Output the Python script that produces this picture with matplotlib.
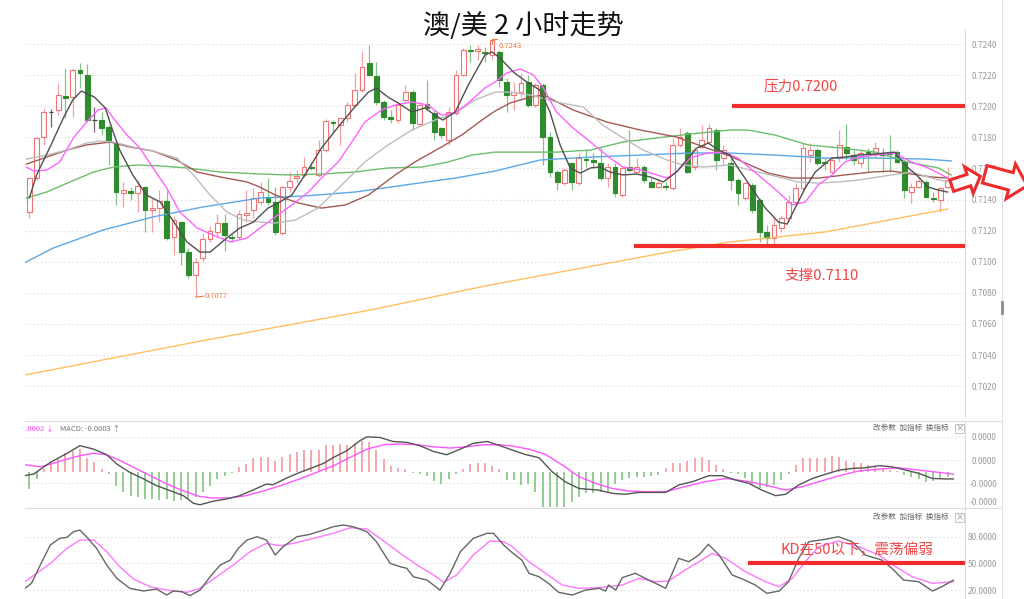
"""
AUD/USD 2 hour chart - candles with moving averages, MACD and KD panels
"""

import matplotlib.pyplot as plt
from matplotlib.patches import Polygon, Rectangle
import numpy as np

plt.rcParams['font.family'] = ['Noto Sans CJK SC', 'DejaVu Sans']

# candle data (one bar per 2 hours)
opens = [.71320, .71538, .71802, .71963, .71976, .72066, .72059, .72233, .72201, .71911,
         .71911, .71866, .71763, .71442, .71455, .71442, .71480, .71333, .71346, .71390,
         .71159, .71255, .71062, .70914, .71024, .71146, .71191, .71249, .71159, .71159,
         .71300, .71333, .71384, .71416, .71384, .71185, .71480, .71538, .71558, .71609,
         .71558, .71718, .71898, .71879, .71924, .72008, .72104, .72278, .72194, .72027,
         .71931, .71911, .72040, .72091, .71886, .72014, .71956, .71860, .71783, .71956,
         .72201, .72361, .72355, .72349, .72329, .72349, .72156, .72072, .72091, .72156,
         .72008, .72136, .71802, .71577, .71506, .71635, .71506, .71660, .71654, .71635,
         .71538, .71609, .71429, .71609, .71577, .71609, .71513, .71480, .71487, .71474,
         .71750, .71828, .71609, .71738, .71770, .71847, .71667, .71635, .71525, .71410,
         .71493, .71397, .71191, .71152, .71217, .71281, .71384, .71474, .71686, .71718,
         .71641, .71577, .71667, .71738, .71686, .71635, .71705, .71693, .71699, .71705,
         .71705, .71641, .71448, .71480, .71513, .71410, .71397, .71480]
highs = [.71545, .71802, .71988, .71982, .72149, .72246, .72246, .72278, .72270, .71995,
         .71963, .71879, .71770, .71513, .71480, .71525, .71487, .71410, .71461, .71461,
         .71294, .71262, .71088, .71024, .71185, .71230, .71307, .71307, .71178, .71333,
         .71461, .71474, .71513, .71538, .71480, .71487, .71577, .71590, .71673, .71641,
         .71783, .71918, .71911, .71924, .72027, .72214, .72355, .72394, .72284, .72040,
         .71976, .72027, .72136, .72104, .72027, .72169, .71976, .71866, .71995, .72233,
         .72374, .72394, .72394, .72381, .72430, .72361, .72181, .72156, .72214, .72201,
         .72149, .72149, .71834, .71590, .71603, .71641, .71699, .71718, .71699, .71731,
         .71635, .71635, .71609, .71847, .71667, .71622, .71538, .71525, .71513, .71796,
         .71860, .71840, .71738, .71879, .71886, .71860, .71750, .71667, .71538, .71513,
         .71506, .71410, .71236, .71288, .71300, .71429, .71506, .71763, .71763, .71731,
         .71673, .71673, .71847, .71886, .71718, .71718, .71731, .71770, .71731, .71815,
         .71718, .71654, .71506, .71545, .71525, .71448, .71480, .71609]
lows = [.71281, .71525, .71750, .71866, .71943, .71924, .71931, .72117, .71898, .71834,
        .71815, .71622, .71365, .71352, .71397, .71320, .71191, .71191, .71255, .71139,
        .71043, .70979, .70895, .70773, .70998, .71127, .71165, .71069, .71127, .71139,
        .71255, .71281, .71365, .71365, .71172, .71172, .71448, .71513, .71545, .71590,
        .71545, .71705, .71834, .71750, .71898, .71995, .72091, .72194, .72008, .71911,
        .71892, .71892, .72027, .71847, .71879, .71976, .71783, .71796, .71750, .71943,
        .72194, .72284, .72297, .72284, .72297, .72123, .71963, .71976, .72059, .71995,
        .71995, .71622, .71545, .71461, .71493, .71461, .71493, .71609, .71609, .71525,
        .71480, .71416, .71416, .71577, .71570, .71506, .71474, .71474, .71461, .71461,
        .71738, .71570, .71590, .71731, .71763, .71590, .71622, .71461, .71365, .71397,
        .71313, .71127, .71107, .71101, .71191, .71255, .71365, .71448, .71641, .71622,
        .71590, .71570, .71641, .71654, .71622, .71609, .71577, .71667, .71577, .71577,
        .71635, .71410, .71378, .71474, .71410, .71384, .71320, .71474]
closes = [.71538, .71796, .71963, .71963, .72072, .72053, .72233, .72214, .71911, .71911,
          .71860, .71770, .71448, .71461, .71442, .71487, .71333, .71346, .71390, .71152,
          .71268, .71062, .70914, .70998, .71146, .71198, .71249, .71172, .71152, .71307,
          .71313, .71410, .71448, .71384, .71191, .71480, .71519, .71551, .71609, .71603,
          .71718, .71905, .71892, .71924, .72008, .72104, .72252, .72201, .72027, .71931,
          .71918, .72008, .72091, .71892, .72008, .71988, .71834, .71815, .71963, .72201,
          .72361, .72355, .72368, .72342, .72426, .72169, .72072, .72091, .72149, .72008,
          .72136, .71802, .71577, .71513, .71590, .71513, .71667, .71654, .71641, .71538,
          .71609, .71442, .71603, .71590, .71609, .71525, .71480, .71506, .71480, .71750,
          .71802, .71577, .71718, .71783, .71860, .71654, .71718, .71525, .71442, .71506,
          .71333, .71191, .71152, .71236, .71281, .71384, .71474, .71731, .71718, .71635,
          .71635, .71654, .71750, .71699, .71654, .71699, .71693, .71731, .71686, .71693,
          .71641, .71461, .71480, .71519, .71416, .71403, .71474, .71525]

# moving averages (bar index, price)
ma5_x = [0, 1, 3, 4.7, 6, 7.2, 9, 10.5, 11.6, 12.5, 14.3, 16.2, 18.1, 20, 21.8, 23.6, 25, 27.3, 29.1, 31,
         33, 34.4, 36.3, 38.1, 40.4, 42.7, 45, 46.9, 48, 49.6, 51, 52.9, 54.7, 56.1, 57.2, 58.9, 60.7, 63, 64, 65.1,
         67, 68.8, 70.6, 72, 73.4, 74.8, 76.2, 77.6, 78.9, 80.3, 82.1, 84, 85.9, 87.7, 89.5, 90.9, 92.3, 93.9, 95.3, 96.9,
         98, 99.9, 101.8, 103.6, 104.8, 105.9, 107.3, 108.7, 111, 112.8, 114.6, 117, 119.7, 121.1, 122.7, 124.3, 125.7, 127]
ma5_y = [.71410, .71558, .71751, .71924, .72040, .72098, .72059, .71989, .71834, .71718,
         .71558, .71429, .71384, .71255, .71127, .71062, .71062, .71152, .71217, .71255,
         .71345, .71378, .71429, .71558, .71731, .71866, .71995, .72091, .72117, .72059,
         .72021, .71963, .71989, .71943, .71911, .71963, .72136, .72329, .72349, .72310,
         .72217, .72156, .72104, .71963, .71751, .71603, .71570, .71603, .71609, .71577,
         .71558, .71564, .71545, .71513, .71577, .71654, .71731, .71763, .71718, .71686,
         .71603, .71474, .71345, .71255, .71242, .71345, .71474, .71577, .71667, .71673,
         .71686, .71693, .71705, .71622, .71558, .71480, .71461, .71448]
ma10_x = [-0.4, 0.6, 2.4, 4.2, 6.1, 7.9, 9.5, 10.6, 11.6, 13.5, 15.3, 17.1, 19, 20.8, 23.2, 25.4, 27.8, 30.1, 31.9, 34,
          36.3, 38.6, 40.4, 42.7, 44.6, 46.4, 48.7, 50.6, 52.9, 55.1, 57, 58.9, 60.7, 63, 64.4, 66, 67.9, 69.7, 71.1, 72.9,
          75.2, 77.6, 80.3, 82.1, 84.5, 86.8, 88.2, 89.5, 91.4, 93.7, 96, 98, 100.8, 103.6, 105.5, 107.3, 109.1, 111, 112.8, 114.6,
          117, 119.7, 122, 124.3, 126.2, 127]
ma10_y = [.71609, .71583, .71590, .71641, .71796, .71898, .71976, .71989, .71924, .71815,
          .71731, .71603, .71474, .71320, .71217, .71172, .71127, .71152, .71217, .71288,
          .71365, .71448, .71538, .71641, .71770, .71898, .71976, .72008, .72027, .72008,
          .71943, .71956, .72021, .72117, .72156, .72214, .72239, .72201, .72117, .71963,
          .71860, .71770, .71667, .71609, .71590, .71558, .71538, .71577, .71667, .71699,
          .71705, .71667, .71558, .71448, .71365, .71384, .71493, .71558, .71641, .71673,
          .71686, .71699, .71641, .71603, .71558, .71538]
ma20_x = [-0.4, 2.4, 5.2, 7.9, 9.8, 11.6, 14.3, 17.1, 20.4, 22.7, 25, 27.3, 29.6, 31.9, 34, 36.8, 39.9, 43.2, 46.4, 49.6,
          52.9, 56.1, 58.9, 61.6, 64.4, 66.5, 69.3, 72.9, 76.6, 79.3, 82.1, 84.9, 88.2, 90.4, 93.2, 96.9, 98.5, 100.8, 103.6, 106.3,
          109.1, 111.9, 114.6, 117.4, 120.1, 122, 124.8, 127]
ma20_y = [.71660, .71686, .71718, .71763, .71776, .71770, .71738, .71712, .71667, .71558,
          .71429, .71320, .71268, .71255, .71249, .71268, .71345, .71493, .71641, .71751,
          .71847, .71911, .71956, .72040, .72091, .72091, .72072, .72027, .71995, .71879,
          .71796, .71718, .71654, .71622, .71609, .71622, .71603, .71577, .71545, .71513,
          .71506, .71513, .71525, .71545, .71564, .71577, .71538, .71513]
ma30_x = [-0.4, 2.4, 5.2, 7.9, 11.2, 13.9, 17.1, 20.4, 23.2, 26.4, 30.1, 31.9, 34, 37.2, 40.4, 43.7, 46.9, 50.6, 53.3, 57,
          59.8, 62.6, 64.4, 66.5, 69.3, 71.1, 75.2, 79.9, 84.5, 89.5, 93.7, 96.9, 99, 102.2, 105.4, 109.1, 112.8, 116.5, 119.3, 122,
          124.8, 127]
ma30_y = [.71628, .71673, .71718, .71751, .71770, .71738, .71712, .71654, .71577, .71545,
          .71513, .71480, .71429, .71378, .71345, .71365, .71429, .71558, .71641, .71738,
          .71815, .71911, .71969, .72021, .72059, .72072, .71976, .71898, .71847, .71802,
          .71731, .71680, .71635, .71570, .71538, .71538, .71558, .71577, .71583, .71564,
          .71545, .71538]
ma60_x = [-0.4, 2.4, 5.6, 8.9, 11.6, 14.9, 18.1, 21.8, 26.4, 31.9, 35.8, 40.4, 45, 49.6, 54.3, 57.9, 61.2, 64.4, 68.3, 72.9,
          77.6, 82.1, 86.8, 91.4, 96.9, 99.4, 103.1, 107.7, 112.4, 117, 121.5, 125.7, 127.5]
ma60_y = [.71410, .71448, .71513, .71577, .71609, .71622, .71616, .71603, .71577, .71564,
          .71558, .71564, .71577, .71603, .71609, .71641, .71686, .71705, .71705, .71705,
          .71718, .71770, .71796, .71821, .71847, .71847, .71815, .71751, .71731, .71705,
          .71641, .71603, .71558]
ma120_x = [-1, 3.3, 10.2, 17.1, 24, 31.9, 38.1, 45, 51.9, 58.9, 64.4, 70.6, 77.6, 84.5, 91.4, 96.9, 103.1, 110, 117, 124, 127.5]
ma120_y = [.70985, .71088, .71204, .71288, .71352, .71410, .71423, .71448, .71493, .71538,
           .71583, .71654, .71673, .71686, .71699, .71699, .71686, .71667, .71667, .71660, .71648]
ma250_x = [-1.3, 23.6, 47.1, 63.7, 88.6, 96.9, 110, 127]
ma250_y = [.70265, .70489, .70689, .70850, .71064, .71127, .71191, .71339]

# MACD panel (units of the panel scale)
dif_x = [-0.6, 0.6, 2.9, 5.2, 7, 8.9, 10.7, 12.1, 13.9, 15.8, 17.6, 19.5, 21.3, 22.7, 23.6, 25.4, 27.3, 29.1, 30.9, 32.8,
         33.7, 35.6, 37.4, 39.3, 40.7, 42.1, 43.9, 45.7, 46.7, 48.5, 50.3, 52.2, 54, 55.9, 57.7, 59.6, 61.4, 63.3, 65.1, 66.8,
         68.6, 70.5, 72.3, 74.1, 76, 78.7, 80.6, 82.4, 84.3, 86.1, 88, 89.8, 91.7, 94, 95.8, 97.7, 99.5, 101.3, 103.2, 104.6,
         106.4, 108.3, 110.1, 112, 113.8, 115.6, 117.5, 119.3, 121.2, 123, 124.9, 126.7, 127.8]
dif_y = [-0.17, -0.1, 0.4, 0.79, 1.12, 0.97, 0.73, 0.33, -0.03, -0.31,
         -0.6, -0.82, -1.03, -1.36, -1.42, -1.27, -1.17, -1.03, -0.79, -0.53,
         -0.56, -0.27, -0.03, 0.19, 0.36, 0.62, 0.9, 1.33, 1.5, 1.47,
         1.3, 1.26, 1.12, 0.87, 0.73, 0.97, 1.22, 1.3, 1.12, 0.93,
         0.74, 0.6, 0, -0.43, -0.72, -0.79, -0.93, -0.97, -0.89, -0.89,
         -0.89, -0.57, -0.43, -0.17, -0.17, -0.36, -0.5, -0.79, -1.03, -0.97,
         -0.57, -0.29, -0.11, 0.07, 0.14, 0.17, 0.26, 0.21, 0.07, -0.07,
         -0.29, -0.31, -0.31]
dea_x = [-0.6, 1.5, 3.3, 5.2, 7, 8.9, 10.7, 12.6, 14.4, 16.7, 19, 21.3, 23.6, 25.4, 27.7, 30, 32.8, 35.1, 37.4, 39.7,
         42.1, 44.4, 46.7, 49, 51.3, 53.6, 55.9, 58.2, 60.5, 62.8, 65.1, 66.8, 69.1, 71.4, 73.7, 76, 78.3, 80.6, 82.9, 85.2,
         88, 90.7, 93.5, 96.3, 99, 101.8, 104.6, 106.9, 109.2, 112, 114.7, 117.5, 120.2, 123, 125.8, 127.8]
dea_y = [0.3, 0.21, 0.36, 0.54, 0.69, 0.79, 0.73, 0.47, 0.19, -0.17,
         -0.53, -0.82, -1.07, -1.13, -1.13, -1.03, -0.79, -0.56, -0.31, -0.03,
         0.26, 0.62, 0.97, 1.16, 1.19, 1.16, 1.07, 1.02, 1.07, 1.16,
         1.16, 1.1, 0.97, 0.74, 0.29, -0.21, -0.5, -0.72, -0.83, -0.86,
         -0.86, -0.64, -0.43, -0.29, -0.4, -0.57, -0.79, -0.64, -0.43, -0.17,
         0.03, 0.11, 0.17, 0.07, -0.03, -0.11]
hist = [-0.74, -0.31, 0.1, 0.4, 0.6, 0.79, 0.9, 0.97, 0.6, 0.4,
        0.1, -0.1, -0.6, -0.89, -1.03, -1.1, -1.17, -1.17, -1.2, -1.17,
        -1.24, -1.2, -1.17, -1.1, -0.89, -0.6, -0.31, -0.17, -0.07, 0.19,
        0.33, 0.6, 0.64, 0.64, 0.47, 0.64, 0.76, 0.83, 0.93, 0.93,
        0.93, 1.16, 1.16, 1.19, 1.16, 1.22, 1.33, 1.26, 0.93, 0.54,
        0.26, 0.16, 0.11, -0.07, -0.1, -0.17, -0.39, -0.53, -0.31, -0.1,
        0.11, 0.33, 0.36, 0.36, 0.26, 0.11, -0.36, -0.36, -0.57, -0.54,
        -0.86, -1.5, -1.5, -1.5, -1.5, -1.29, -1.07, -0.93, -0.93, -0.86,
        -0.86, -0.54, -0.36, -0.26, -0.21, -0.21, -0.17, -0.14, 0.14, 0.36,
        0.36, 0.46, 0.57, 0.64, 0.5, 0.29, 0.11, -0.07, -0.11, -0.26,
        -0.57, -0.69, -0.64, -0.57, -0.36, -0.11, 0.29, 0.57, 0.6, 0.57,
        0.6, 0.69, 0.64, 0.46, 0.4, 0.36, 0.31, 0.26, 0.11, 0.07,
        0.03, -0.14, -0.21, -0.31, -0.43, -0.4, -0.29, -0.21]
macd_ticks = [1.5, 0.5, -0.5, -1.3]
macd_labels = ['0.0000', '0.0000', '-0.0000', '-0.0000']

# KD panel
k_x = [-0.6, 0.3, 1.5, 2.9, 4.2, 5.2, 6.1, 7, 7.9, 9.3, 10.7, 12.1, 13.9, 15.8, 17.6, 19, 19.9, 21.1, 22.2, 23.6,
       25, 26.4, 27.8, 28.9, 30.1, 31.5, 32.8, 34, 35.1, 37, 38.8, 40.7, 42, 43.4, 44.8, 46.7, 48, 49.9, 51.3, 52.2,
       53.1, 55, 56.8, 58.2, 59.6, 61.4, 63.3, 64.2, 65.6, 66.8, 68.1, 69.1, 70.5, 71.8, 73.2, 75.1, 76.9, 78.8, 79.7, 80.1,
       81.1, 82, 83.8, 85.2, 86.6, 88, 89.8, 91.2, 92.6, 93.9, 95.4, 97.2, 98.6, 100.4, 102, 103.7, 105, 106.4, 107.8, 110.1,
       111.9, 113.8, 115.6, 117.9, 119.3, 120.9, 123, 124.9, 126.2, 127.8]
k_y = [22, 27.6, 48, 70.7, 78.2, 79.3, 85.6, 87.5, 80, 67, 48.2, 33.2, 22, 19, 21.2, 14.5, 19, 18.2, 13.7, 20,
       35, 48.2, 53.8, 67, 76.3, 80, 76.3, 59.4, 68.8, 80, 82.7, 87.5, 91.2, 93.2, 91.2, 85.6, 74.4, 50, 46.3, 44.5,
       35, 31.3, 20, 38.9, 63.1, 78.2, 83.8, 83.8, 70.7, 62, 53.8, 38.9, 35, 27.6, 17.5, 14.5, 20, 22, 19, 25.7,
       20, 34, 38.9, 33.2, 27.6, 22, 55.7, 51.9, 59.4, 71.5, 59.4, 37, 32.5, 25.7, 16.4, 19, 29.4, 55.7, 74.4, 77.1,
       80, 74.4, 59.4, 53.8, 44.5, 31.3, 29.4, 19, 23.8, 31.3]
d_x = [-0.6, 2.9, 5.2, 7, 8.9, 10.7, 12.5, 14.4, 16.7, 19, 21.8, 23.6, 25.9, 28.2, 30.5, 32.8, 34.7, 36.5, 39.3, 42,
       44.4, 46.7, 48.5, 51.3, 54, 55.9, 57.3, 59.1, 61.4, 63.7, 65.6, 66.8, 69.1, 71.4, 73.7, 76, 78.8, 82, 84.3, 86.6,
       88.4, 90.7, 93, 94.4, 96.3, 99, 101.8, 103.7, 105.5, 107.3, 109.2, 111.9, 114.7, 117.5, 119.8, 122.1, 124.9, 126.7, 127.8]
d_y = [29.4, 50, 67, 76.3, 76.3, 63.1, 46.3, 32.5, 23.8, 20, 17.5, 22, 35, 48.2, 63.1, 72.6, 69.9, 72.6, 78.2, 83.8,
       90.1, 88.6, 78.2, 61.3, 46.3, 37, 28.7, 37, 59.4, 75.2, 74.4, 68.8, 51.9, 38.9, 25.7, 22, 22.7, 25.7, 33.2, 29.4,
       30.2, 42.6, 53.8, 61.3, 55.7, 40.7, 29.4, 23.8, 33.2, 51.9, 68.8, 75.2, 68.8, 59.4, 46.3, 35, 27.6, 28.7, 29.4]
kd_ticks = [80, 50, 20]
kd_labels = ['80.0000', '50.0000', '20.0000']

price_ticks = np.arange(0.7020, 0.72405, 0.002)

W, H = 1024, 599
red = '#f07272'
green = '#2e8b2e'
grid_c = '#e2e2e2'


def px_box(x0, y0, x1, y1):
    # pixel box measured from the top left -> figure fraction
    return [x0 / W, 1 - y1 / H, (x1 - x0) / W, (y1 - y0) / H]


fig = plt.figure(figsize=(10.24, 5.99), dpi=100)
ax = fig.add_axes(px_box(25, 28.5, 965, 417.2))
ax_macd = fig.add_axes(px_box(25, 421, 965, 508))
ax_kd = fig.add_axes(px_box(25, 508, 965, 599))

for a in (ax, ax_macd, ax_kd):
    a.set_xlim(-0.6, 129.4)
    a.set_xticks([])
    a.yaxis.tick_right()
    a.tick_params(axis='y', length=0, pad=23, labelsize=6, labelcolor='#9a9a9a')
    for s in a.spines.values():
        s.set_visible(False)
    a.spines['right'].set_visible(True)
    a.spines['right'].set_color('#dddddd')
    a.spines['right'].set_linewidth(0.8)

# ---- main panel ----
ax.set_ylim(0.7000, 0.7250)
ax.set_yticks(price_ticks, ['%.4f' % t for t in price_ticks])
for t in price_ticks:
    ax.axhline(t, color=grid_c, lw=0.8, ls=(0, (1.5, 2)), zorder=0)

for i in range(len(closes)):
    o, h, l, c = opens[i], highs[i], lows[i], closes[i]
    if c > o:
        edge, wick, face = red, '#f3a2a2', 'white'
    elif c < o:
        edge, wick, face = green, '#85c285', green
    else:
        edge, wick, face = '#444444', '#666666', '#444444'
    ax.vlines(i, l, h, color=wick, lw=0.9, zorder=3)
    ax.bar(i, max(abs(c - o), 0.000012), bottom=min(o, c), width=0.66,
           facecolor=face, edgecolor=edge, lw=0.8, zorder=4)

ax.plot(ma250_x, ma250_y, color='#ffbf5e', lw=1.0, zorder=5)
ax.plot(ma120_x, ma120_y, color='#5aa8e6', lw=1.0, zorder=5)
ax.plot(ma60_x, ma60_y, color='#6cbd6c', lw=1.0, zorder=5)
ax.plot(ma30_x, ma30_y, color='#a35a52', lw=1.0, zorder=5)
ax.plot(ma20_x, ma20_y, color='#bdbdbd', lw=1.0, zorder=5)
ax.plot(ma10_x, ma10_y, color='#ff62ff', lw=1.0, zorder=5)
ax.plot(ma5_x, ma5_y, color='#505050', lw=1.0, zorder=6)

# high / low markers
ax.plot([23, 24.1], [lows[23], lows[23] + 0.00005], color='#f07a3a', lw=0.8, zorder=6)
ax.text(24.3, lows[23] + 0.00005, '0.7077', color='#f07a3a', fontsize=5.5, va='center', zorder=6)
ax.plot([64, 64, 64.7], [0.72400, highs[64], highs[64]], color='#f07a3a', lw=0.8, zorder=6)
ax.text(64.9, 0.72390, '0.7243', color='#f07a3a', fontsize=5.5, va='center', zorder=6)

# resistance / support
ax.plot([97.2, 129.4], [0.7200, 0.7200], color='#f02c2c', lw=3, solid_capstyle='butt', zorder=7)
ax.plot([83.6, 129.4], [0.7110, 0.7110], color='#f02c2c', lw=3, solid_capstyle='butt', zorder=7)
ax.text(106.7, 0.72127, '压力0.7200', color='#f04646', fontsize=10.5, ha='center', va='center')
ax.text(109.6, 0.70908, '支撑0.7110', color='#f04646', fontsize=10.5, ha='center', va='center')

# ---- MACD panel ----
ax_macd.set_ylim(-1.56, 2.18)
ax_macd.set_yticks(macd_ticks, macd_labels)
for t in macd_ticks[:3]:
    ax_macd.axhline(t, color=grid_c, lw=0.8, ls=(0, (1.5, 2)), zorder=0)
hx = np.arange(len(hist))
hv = np.array(hist)
ax_macd.vlines(hx[hv >= 0], 0, hv[hv >= 0], color='#f29a9a', lw=1.2)
ax_macd.vlines(hx[hv < 0], 0, hv[hv < 0], color='#80c480', lw=1.2)
ax_macd.plot(dea_x, dea_y, color='#ff55ff', lw=1.0)
ax_macd.plot(dif_x, dif_y, color='#555555', lw=1.0)
ax_macd.text(-0.0045, 0.91, '0.0002 ↓', color='#ff44ff', fontsize=5.5,
             transform=ax_macd.transAxes, va='center', clip_on=True)
ax_macd.text(0.037, 0.91, 'MACD: -0.0003 ↑', color='#777777', fontsize=5.5,
             transform=ax_macd.transAxes, va='center')

# ---- KD panel ----
ax_kd.set_ylim(10, 112.3)
ax_kd.set_yticks(kd_ticks, kd_labels)
for t in kd_ticks:
    ax_kd.axhline(t, color=grid_c, lw=0.8, ls=(0, (1.5, 2)), zorder=0)
ax_kd.plot(d_x, d_y, color='#ff77ff', lw=1.0)
ax_kd.plot(k_x, k_y, color='#666666', lw=1.0)
ax_kd.plot([99.4, 129.4], [50, 50], color='#f02c2c', lw=3, solid_capstyle='butt', zorder=7)
ax_kd.text(114.5, 65, 'KD在50以下，震荡偏弱', color='#f04646', fontsize=10.5, ha='center', va='center')

for a in (ax, ax_macd, ax_kd):
    for lbl in a.get_yticklabels():
        lbl.set_horizontalalignment('right')

# panel buttons
for a, yb in ((ax_macd, 428), (ax_kd, 517)):
    fig.text(949 / W, 1 - yb / H, '改参数  加指标  换指标', fontsize=5.5, color='#666666',
             ha='right', va='center')
    fig.patches.append(Rectangle((955 / W, 1 - (yb + 4.5) / H), 9 / W, 9 / H, transform=fig.transFigure,
                                 facecolor='white', edgecolor='#bbbbbb', lw=0.6))
    fig.text(959.5 / W, 1 - yb / H, '×', fontsize=6, color='#888888', ha='center', va='center')

# separators and scrollbar
for yy in (421, 508):
    fig.add_artist(plt.Line2D([25 / W, 1002 / W], [1 - yy / H, 1 - yy / H], color='#dddddd', lw=0.8))
fig.add_artist(plt.Line2D([1002 / W, 1002 / W], [0, 1], color='#e0e0e0', lw=0.8))
fig.add_artist(plt.Line2D([1002 / W, 1002 / W], [1 - 302 / H, 1 - 313 / H], color='#8a8a8a', lw=2))


def block_arrow(cx, cy, length, body_h, head_h, head_len, angle):
    # outlined arrow pointing right, drawn in pixel units, angle in degrees (ccw)
    pts = np.array([[-length / 2, -body_h], [length / 2 - head_len, -body_h],
                    [length / 2 - head_len, -head_h], [length / 2, 0],
                    [length / 2 - head_len, head_h], [length / 2 - head_len, body_h],
                    [-length / 2, body_h]])
    a = np.radians(angle)
    rot = np.array([[np.cos(a), -np.sin(a)], [np.sin(a), np.cos(a)]])
    pts = pts @ rot.T
    xs = (cx + pts[:, 0]) / W
    ys = 1 - (cy - pts[:, 1]) / H
    fig.patches.append(Polygon(np.c_[xs, ys], closed=True, transform=fig.transFigure,
                               facecolor='white', edgecolor='#ee2a2a', lw=2.2, zorder=10))


block_arrow(966, 181, 30, 6, 14, 12, 18)
block_arrow(1006, 180, 44, 9, 18, 17, -15)

fig.text(523 / W, 1 - 26 / H, '澳/美 2 小时走势', fontsize=19.5, color='#111111', ha='center', va='center')

plt.savefig('out.png', dpi=100)
